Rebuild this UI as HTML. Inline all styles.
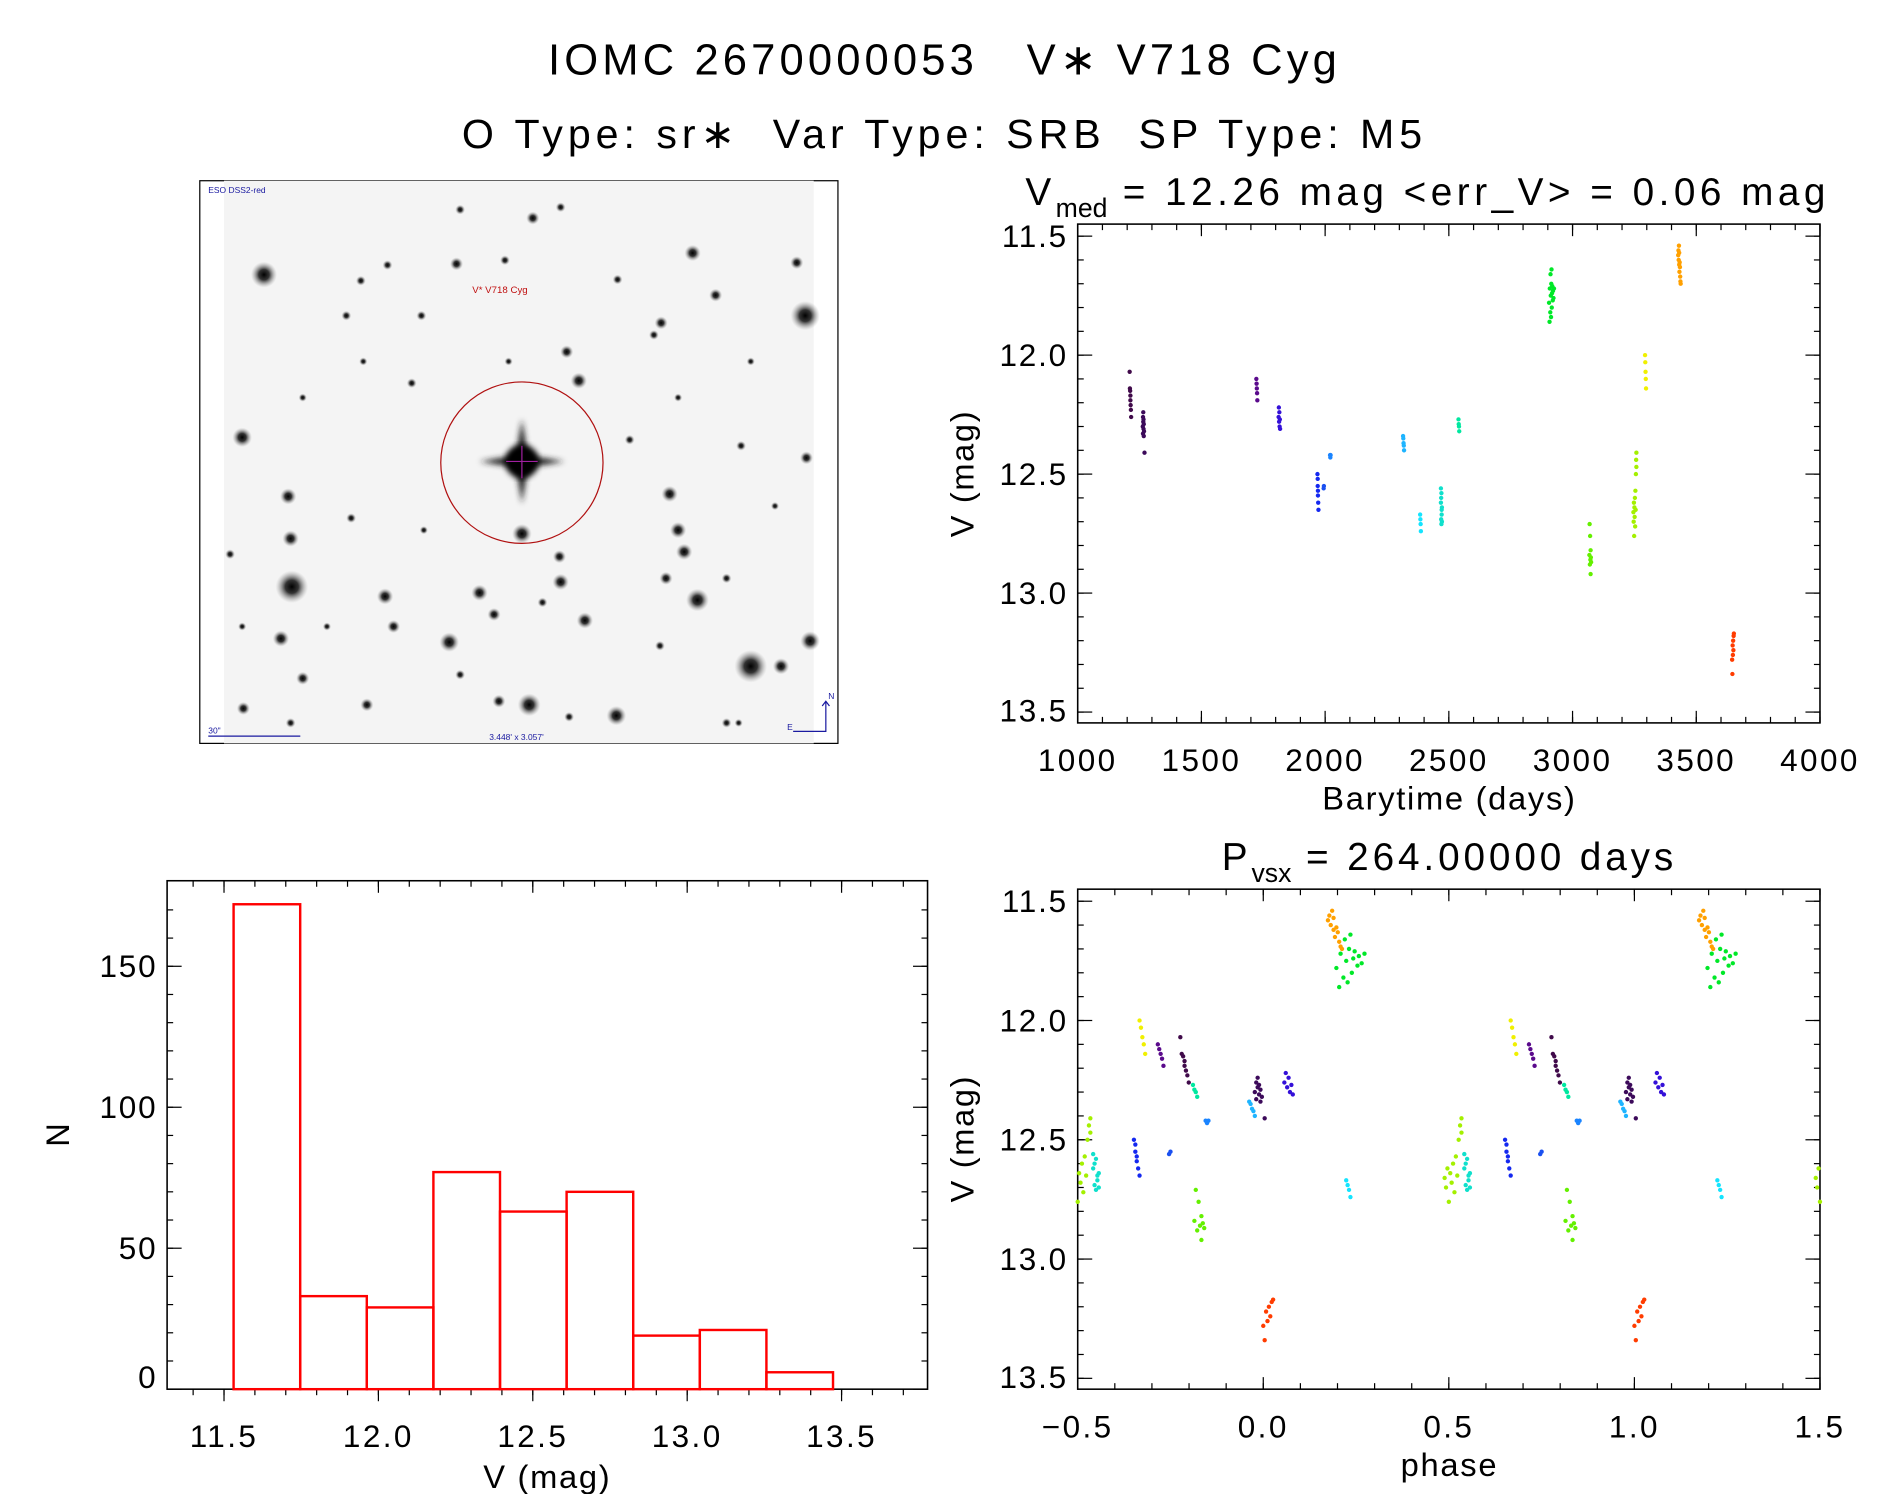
<!DOCTYPE html>
<html><head><meta charset="utf-8"><style>
html,body{margin:0;padding:0;background:#fff;}
svg{display:block;font-family:"Liberation Sans",sans-serif;}
</style></head><body>
<svg id="fig" width="1889" height="1494" viewBox="0 0 1560 1240" preserveAspectRatio="none" xmlns="http://www.w3.org/2000/svg">
<defs>
<radialGradient id="starg"><stop offset="0" stop-color="#000" stop-opacity="1"/><stop offset="0.4" stop-color="#111" stop-opacity="0.85"/><stop offset="1" stop-color="#999" stop-opacity="0"/></radialGradient>
<filter id="soft"><feGaussianBlur stdDeviation="2.5"/></filter>
</defs>
<text x="780" y="62" font-size="36" letter-spacing="3.4" text-anchor="middle">IOMC 2670000053 &#160;&#160;V&#x2217; V718 Cyg</text>
<text x="780" y="123" font-size="34" letter-spacing="4.1" text-anchor="middle">O Type: sr&#x2217; &#160;Var Type: SRB &#160;SP Type: M5</text>
<g id="img"></g>
<g id="lc"></g>
<g id="ph"></g>
<g id="hist"></g>
</svg>
<script>
const groupColors=['#400a4a','#3c0a5a','#5a0a8c','#3410d8','#1428f0','#1a50f0','#1a84ff','#1eb4ff','#14e4ff','#10e0cc','#00e8a0','#00e828','#64f000','#a4f000','#f0f000','#ffa000','#ff3c00'];
const groupTimes=[
[1210,1211,1212,1213,1213,1214,1215,1216],
[1263,1264,1264,1265,1265,1266,1266,1267,1267,1268,1270],
[1722,1723,1724,1725,1726],
[1812,1813,1814,1815,1816,1817,1818],
[1969,1970,1970,1971,1971,1972,1973],
[1994,1995],
[2020,2021,2022],
[2315,2316,2317,2318,2319],
[2384,2385,2386,2387],
[2468,2468,2469,2469,2470,2470,2471,2471,2472,2472],
[2539,2540,2541,2542],
[2905,2907,2908,2910,2911,2912,2913,2914,2915,2916,2917,2918,2920,2921,2923,2925],
[3068,3069,3070,3071,3072,3073,3073,3074,3075],
[3246,3247,3248,3249,3250,3251,3252,3253,3254,3255,3256,3257,3258,3258],
[3293,3294,3295,3296,3297],
[3427,3428,3429,3430,3431,3431,3432,3433,3434,3435,3436,3437],
[3645,3646,3647,3648,3649,3650,3651,3652]
];
const groupMags=[
[12.07,12.14,12.15,12.17,12.19,12.21,12.23,12.26],
[12.30,12.26,12.33,12.28,12.24,12.31,12.27,12.34,12.29,12.32,12.41],
[12.10,12.12,12.14,12.16,12.19],
[12.26,12.22,12.28,12.24,12.30,12.27,12.31],
[12.50,12.52,12.55,12.57,12.59,12.62,12.65],
[12.56,12.55],
[12.42,12.43,12.42],
[12.34,12.35,12.37,12.38,12.40],
[12.67,12.69,12.71,12.74],
[12.62,12.56,12.69,12.60,12.71,12.58,12.65,12.67,12.64,12.70],
[12.27,12.29,12.30,12.32],
[11.78,11.86,11.72,11.82,11.66,11.75,11.84,11.70,11.64,11.80,11.74,11.71,11.77,11.73,11.76,11.72],
[12.84,12.71,12.88,12.76,12.86,12.92,12.82,12.85,12.87],
[12.66,12.70,12.62,12.76,12.64,12.68,12.60,12.72,12.57,12.65,12.50,12.44,12.41,12.47],
[12.00,12.03,12.07,12.10,12.14],
[11.58,11.56,11.60,11.54,11.62,11.57,11.65,11.61,11.63,11.67,11.69,11.70],
[13.28,13.34,13.22,13.26,13.20,13.24,13.18,13.17]
];
const period=264.0, epoch=3645;
const lcXTicks=[1000,1500,2000,2500,3000,3500,4000];
const magTicks=[11.5,12.0,12.5,13.0,13.5];
const phXTicks=[-0.5,0.0,0.5,1.0,1.5];
const histStart=11.531, histWidth=0.2157;
const histCounts=[172,33,29,77,63,70,19,21,6];
const histXTicks=[11.5,12.0,12.5,13.0,13.5];
const histYTicks=[0,50,100,150];

const NS='http://www.w3.org/2000/svg';
function mk(parent,tag,attrs,text){const e=document.createElementNS(NS,tag);for(const k in attrs)e.setAttribute(k,attrs[k]);if(text!==undefined)e.textContent=text;parent.appendChild(e);return e;}
function lin(d0,d1,r0,r1){return v=>r0+(v-d0)/(d1-d0)*(r1-r0);}
function fmt1(v){return v.toFixed(1).replace('-','\u2212');}

// ---------- sky image ----------
(function(){
 const g=document.getElementById('img');
 mk(g,'rect',{x:165,y:150,width:527,height:467,fill:'#fff',stroke:'#000','stroke-width':1});
 mk(g,'rect',{x:185,y:150,width:487,height:467,fill:'#f4f4f4'});
 const stars=[[218,228,8],[665,262,9],[200,363,6],[238,412,5],[240,447,5],[241,487,10],[232,530,5],[620,553,10],[437,585,7],[509,594,6],[576,498,7],[483,515,5],[463,483,5],[396,492,5],[318,495,5],[325,520,4],[371,533,6],[408,510,4],[377,219,4],[440,181,4],[572,210,5],[658,218,4],[468,292,4],[431,443,6],[298,233,3],[546,268,4],[553,410,5],[560,440,5],[565,458,5],[669,532,6],[645,553,5],[303,585,4],[201,588,4],[250,563,4],[412,582,4],[462,462,4],[550,480,4],[348,262,3],[320,220,3],[286,262,3],[380,174,3],[463,172,3],[478,316,5],[417,216,3],[540,278,3],[591,245,4],[510,232,3],[666,380,4],[612,370,3],[520,365,3],[340,318,3],[290,430,3],[600,480,3],[448,500,3],[380,560,3],[470,595,3],[600,600,3],[240,600,3],[190,460,3],[545,536,3],[250,330,2.5],[300,300,2.5],[420,300,2.5],[560,330,2.5],[620,300,2.5],[640,420,2.5],[610,600,2.5],[350,440,2.5],[270,520,2.5],[200,520,2.5]];
 stars.forEach(s=>{const c=mk(g,'circle',{cx:s[0],cy:s[1],r:s[2]*1.35,fill:'url(#starg)'});
  
  });
 mk(g,'path',{d:'M431 348 L436 378 L466 383 L436 388 L431 418 L426 388 L396 383 L426 378 Z',fill:'#222',filter:'url(#soft)'});
 mk(g,'circle',{cx:431,cy:383,r:14,fill:'#000',filter:'url(#soft)'});
 mk(g,'line',{x1:431,y1:370,x2:431,y2:397,stroke:'#a020a0','stroke-width':1});
 mk(g,'line',{x1:418,y1:383,x2:444,y2:383,stroke:'#a020a0','stroke-width':1});
 mk(g,'ellipse',{cx:431,cy:384,rx:67,ry:67,fill:'none',stroke:'#b01010','stroke-width':1,});
 mk(g,'text',{x:172,y:160,'font-size':7,fill:'#1a1aa0',},'ESO DSS2-red');
 mk(g,'text',{x:390,y:243,'font-size':8,fill:'#c01010',},'V* V718 Cyg');
 mk(g,'line',{x1:172,y1:611,x2:248,y2:611,stroke:'#1a1aa0','stroke-width':1});
 mk(g,'text',{x:172,y:609,'font-size':7,fill:'#1a1aa0',},'30"');
 mk(g,'text',{x:404,y:614,'font-size':7,fill:'#1a1aa0',},"3.448' x 3.057'");
 mk(g,'path',{d:'M655 607 L682 607 L682 582 M679 586 L682 582 L685 586',fill:'none',stroke:'#1a1aa0','stroke-width':1,});
 mk(g,'text',{x:684,y:580,'font-size':7,fill:'#1a1aa0'},'N');
 mk(g,'text',{x:650,y:606,'font-size':7,fill:'#1a1aa0'},'E');
})();

// ---------- generic axes ----------
function axes(g,o){
 const {L,R,T,B,xs,ys}=o;
 mk(g,'rect',{x:L,y:T,width:R-L,height:B-T,fill:'none',stroke:'#000','stroke-width':1.3,});
 const xdir=o.xOut?1:-1;
 o.xMinor.forEach(v=>{const x=xs(v);mk(g,'line',{x1:x,y1:B,x2:x,y2:B+xdir*5,stroke:'#000'});mk(g,'line',{x1:x,y1:T,x2:x,y2:T+5,stroke:'#000'});});
 o.xMajor.forEach(v=>{const x=xs(v);mk(g,'line',{x1:x,y1:B,x2:x,y2:B+xdir*10,stroke:'#000'});mk(g,'line',{x1:x,y1:T,x2:x,y2:T+10,stroke:'#000'});
  const t=mk(g,'text',{x:x,y:B+o.xLabOff,'font-size':26,'letter-spacing':2,'text-anchor':'middle'},o.xFmt(v));
  
  });
 o.yMinor.forEach(v=>{const y=ys(v);mk(g,'line',{x1:L,y1:y,x2:L+5,y2:y,stroke:'#000'});mk(g,'line',{x1:R,y1:y,x2:R-5,y2:y,stroke:'#000'});});
 o.yMajor.forEach(v=>{const y=ys(v);mk(g,'line',{x1:L,y1:y,x2:L+12,y2:y,stroke:'#000'});mk(g,'line',{x1:R,y1:y,x2:R-12,y2:y,stroke:'#000'});
  const ty=Math.min(y+9,B-1);
  const t=mk(g,'text',{x:L-o.yLabOff,y:ty,'font-size':26,'letter-spacing':1.5,'text-anchor':'end'},o.yFmt(v));
  
  });
}
function range(a,b,s){const r=[];for(let v=a;v<=b+1e-9;v+=s)r.push(Math.round(v*1000)/1000);return r;}

// ---------- light curve ----------
(function(){
 const g=document.getElementById('lc');
 const L=890,R=1503,T=186,B=600;
 const xs=lin(1000,4000,L,R), ys=lin(11.5,13.5,196,591);
 mk(g,'text',{x:1179,y:170,'font-size':32,'letter-spacing':3.7,'text-anchor':'middle',}).innerHTML='V<tspan font-size="22" dy="10" letter-spacing="0">med</tspan><tspan dy="-10"> = 12.26 mag &lt;err_V&gt; = 0.06 mag</tspan>';
 axes(g,{L,R,T,B,xs,ys,name:'light-curve',xMajor:lcXTicks,xMinor:range(1000,4000,100),yMajor:magTicks,yMinor:range(11.5,13.5,0.1),xLabOff:40,yLabOff:8,xFmt:v=>String(v),yFmt:fmt1});
 mk(g,'text',{x:1197,y:672,'font-size':27,'letter-spacing':1.4,'text-anchor':'middle',},'Barytime (days)');
 mk(g,'text',{x:0,y:0,'font-size':27,'letter-spacing':1.4,'text-anchor':'middle',transform:'translate(804,393) rotate(-90)',},'V (mag)');
 groupTimes.forEach((ts,i)=>ts.forEach((t,j)=>{
  const c=mk(g,'circle',{cx:xs(t),cy:ys(groupMags[i][j]),r:1.8,fill:groupColors[i]});
  
  
 }));
})();

// ---------- phase plot ----------
(function(){
 const g=document.getElementById('ph');
 const L=890,R=1503,T=738,B=1153;
 const xs=lin(-0.5,1.5,L,R), ys=lin(11.5,13.5,748,1144);
 mk(g,'text',{x:1197,y:722,'font-size':32,'letter-spacing':3.2,'text-anchor':'middle',}).innerHTML='P<tspan font-size="22" dy="10" letter-spacing="0">vsx</tspan><tspan dy="-10"> = 264.00000 days</tspan>';
 axes(g,{L,R,T,B,xs,ys,name:'phase',xMajor:phXTicks,xMinor:range(-0.5,1.5,0.1),yMajor:magTicks,yMinor:range(11.5,13.5,0.1),xLabOff:40,yLabOff:8,xFmt:fmt1,yFmt:fmt1});
 mk(g,'text',{x:1197,y:1225,'font-size':27,'letter-spacing':1.4,'text-anchor':'middle',},'phase');
 mk(g,'text',{x:0,y:0,'font-size':27,'letter-spacing':1.4,'text-anchor':'middle',transform:'translate(804,945) rotate(-90)',},'V (mag)');
 groupTimes.forEach((ts,i)=>ts.forEach((t,j)=>{
  let p=((t-epoch)/period)%1; if(p<0)p+=1;
  [p-1,p,p+1].forEach(q=>{ if(q<-0.5||q>1.5)return;
   const c=mk(g,'circle',{cx:xs(q),cy:ys(groupMags[i][j]),r:1.8,fill:groupColors[i]});
   
   
  });
 }));
})();

// ---------- histogram ----------
(function(){
 const g=document.getElementById('hist');
 const L=138,R=766,T=731,B=1153;
 const xs=lin(11.5,13.5,185,695), ys=lin(0,150,1153,802);
 axes(g,{L,R,T,B,xs,ys,name:'histogram',xOut:true,xMajor:histXTicks,xMinor:range(11.4,13.7,0.1),yMajor:histYTicks,yMinor:range(0,170,10),xLabOff:48,yLabOff:8,xFmt:fmt1,yFmt:v=>String(v)});
 histCounts.forEach((n,i)=>{
  const x0=xs(histStart+i*histWidth), x1=xs(histStart+(i+1)*histWidth);
  const r=mk(g,'rect',{x:x0,y:ys(n),width:x1-x0,height:ys(0)-ys(n),fill:'none',stroke:'#ff0000','stroke-width':2});
  
  
 });
 mk(g,'text',{x:452,y:1235,'font-size':27,'letter-spacing':1.4,'text-anchor':'middle',},'V (mag)');
 mk(g,'text',{x:0,y:0,'font-size':27,'text-anchor':'middle',transform:'translate(57,942) rotate(-90)',},'N');
})();
</script>
</body></html>
